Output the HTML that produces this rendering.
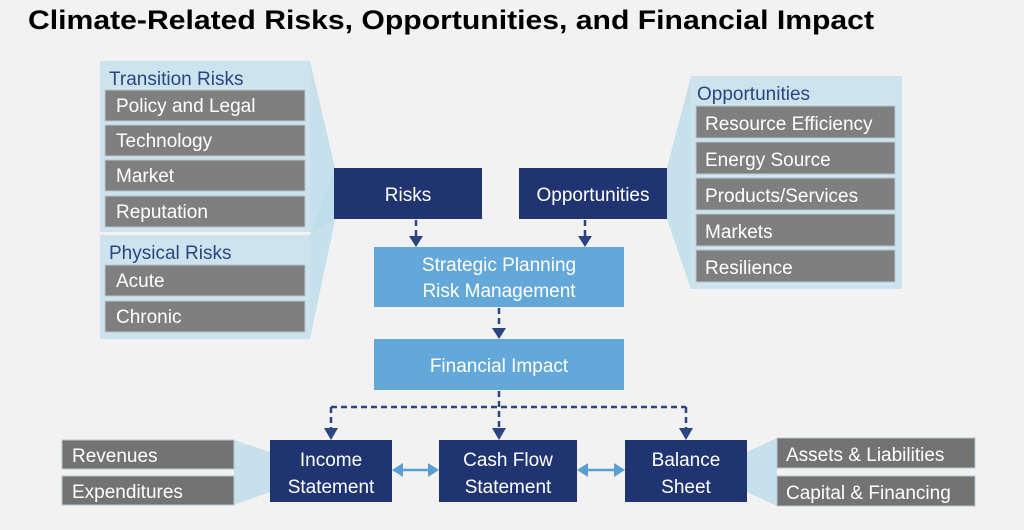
<!DOCTYPE html>
<html><head><meta charset="utf-8"><style>
html,body{margin:0;padding:0;background:#f2f2f2;}
svg{display:block;font-family:"Liberation Sans",sans-serif;}
</style></head><body>
<svg width="1024" height="530" viewBox="0 0 1024 530" xmlns="http://www.w3.org/2000/svg">
<defs>
<marker id="ah" markerWidth="8" markerHeight="8" refX="4" refY="6" orient="auto" markerUnits="userSpaceOnUse" viewBox="0 0 8 8"><path d="M0,0 L8,0 L4,8 Z" fill="#2b4580"/></marker>
</defs>
<rect width="1024" height="530" fill="#f2f2f2"/>
<text x="28" y="29" font-size="27" font-weight="bold" fill="#000" textLength="846" lengthAdjust="spacingAndGlyphs">Climate-Related Risks, Opportunities, and Financial Impact</text>

<!-- left panels -->
<rect x="100" y="61" width="210" height="171" fill="#cde4ee"/>
<rect x="100" y="235" width="210" height="104" fill="#cde4ee"/>
<polygon points="310,61 335,168 335,220 310,232" fill="#bcdcea" opacity="0.8"/>
<polygon points="310,235 335,168 335,220 310,339" fill="#bcdcea" opacity="0.8"/>
<text x="109" y="85" font-size="19" fill="#2b4580">Transition Risks</text>
<text x="109" y="259" font-size="19" fill="#2b4580">Physical Risks</text>
<g fill="#7f7f7f" stroke="#b9c7cc" stroke-width="1">
<rect x="105" y="90" width="200" height="31"/>
<rect x="105" y="125" width="200" height="31"/>
<rect x="105" y="160" width="200" height="31"/>
<rect x="105" y="196" width="200" height="31"/>
<rect x="105" y="265" width="200" height="31"/>
<rect x="105" y="301" width="200" height="31"/>
</g>
<g font-size="19" fill="#fff">
<text x="116" y="112">Policy and Legal</text>
<text x="116" y="147">Technology</text>
<text x="116" y="182">Market</text>
<text x="116" y="218">Reputation</text>
<text x="116" y="287">Acute</text>
<text x="116" y="323">Chronic</text>
</g>

<!-- right panel -->
<rect x="691" y="76" width="211" height="213" fill="#cde4ee"/>
<polygon points="691,76 667,168 667,219 691,289" fill="#bcdcea" opacity="0.8"/>
<text x="697" y="100" font-size="19" fill="#2b4580">Opportunities</text>
<g fill="#7f7f7f" stroke="#b9c7cc" stroke-width="1">
<rect x="696" y="106" width="199" height="32"/>
<rect x="696" y="142" width="199" height="32"/>
<rect x="696" y="178" width="199" height="32"/>
<rect x="696" y="214" width="199" height="32"/>
<rect x="696" y="250" width="199" height="32"/>
</g>
<g font-size="19" fill="#fff">
<text x="705" y="130">Resource Efficiency</text>
<text x="705" y="166">Energy Source</text>
<text x="705" y="202">Products/Services</text>
<text x="705" y="238">Markets</text>
<text x="705" y="274">Resilience</text>
</g>

<!-- center -->
<rect x="334" y="168" width="148" height="51" fill="#203471"/>
<rect x="519" y="168" width="148" height="51" fill="#203471"/>
<text x="408" y="201" font-size="19" fill="#fff" text-anchor="middle">Risks</text>
<text x="593" y="201" font-size="19" fill="#fff" text-anchor="middle">Opportunities</text>

<g stroke="#2b4580" stroke-width="2.5" stroke-dasharray="6,4" fill="none">
<line x1="416" y1="220" x2="416" y2="239"/>
<line x1="585" y1="220" x2="585" y2="239"/>
<line x1="499" y1="308" x2="499" y2="331"/>
<line x1="499" y1="391" x2="499" y2="432"/>
<line x1="331" y1="407" x2="686" y2="407"/>
<line x1="331" y1="407" x2="331" y2="432"/>
<line x1="686" y1="407" x2="686" y2="432"/>
</g>
<g fill="#2b4580">
<path d="M409,236 L423,236 L416,247 Z"/>
<path d="M578,236 L592,236 L585,247 Z"/>
<path d="M492,328 L506,328 L499,339 Z"/>
<path d="M324,428 L338,428 L331,440 Z"/>
<path d="M492,428 L506,428 L499,440 Z"/>
<path d="M679,428 L693,428 L686,440 Z"/>
</g>

<rect x="374" y="247" width="250" height="60" fill="#63a8d8"/>
<text x="499" y="271" font-size="19" fill="#fff" text-anchor="middle">Strategic Planning</text>
<text x="499" y="297" font-size="19" fill="#fff" text-anchor="middle">Risk Management</text>
<rect x="374" y="339" width="250" height="51" fill="#63a8d8"/>
<text x="499" y="372" font-size="19" fill="#fff" text-anchor="middle">Financial Impact</text>

<!-- bottom -->
<polygon points="234,440 270,452 270,492 234,505" fill="#bcdcea" opacity="0.8"/>
<polygon points="777,438 747,452 747,492 777,506" fill="#bcdcea" opacity="0.8"/>
<g fill="#737373" stroke="#b9c7cc" stroke-width="1">
<rect x="62" y="440" width="172" height="29"/>
<rect x="62" y="476" width="172" height="29"/>
<rect x="777" y="438" width="198" height="30"/>
<rect x="777" y="476" width="198" height="30"/>
</g>
<g font-size="19" fill="#fff">
<text x="72" y="462">Revenues</text>
<text x="72" y="498">Expenditures</text>
<text x="786" y="461">Assets &amp; Liabilities</text>
<text x="786" y="499">Capital &amp; Financing</text>
</g>
<rect x="270" y="440" width="122" height="62" fill="#203471"/>
<rect x="439" y="440" width="138" height="62" fill="#203471"/>
<rect x="625" y="440" width="122" height="62" fill="#203471"/>
<g font-size="19" fill="#fff" text-anchor="middle">
<text x="331" y="466">Income</text>
<text x="331" y="493">Statement</text>
<text x="508" y="466">Cash Flow</text>
<text x="508" y="493">Statement</text>
<text x="686" y="466">Balance</text>
<text x="686" y="493">Sheet</text>
</g>
<g stroke="#5a9fd0" stroke-width="2.5"><line x1="400" y1="470" x2="431" y2="470"/><line x1="585" y1="470" x2="617" y2="470"/></g>
<g fill="#5a9fd0">
<path d="M392,470 L403,463 L403,477 Z"/><path d="M439,470 L428,463 L428,477 Z"/>
<path d="M577,470 L588,463 L588,477 Z"/><path d="M625,470 L614,463 L614,477 Z"/>
</g>
</svg>
</body></html>
